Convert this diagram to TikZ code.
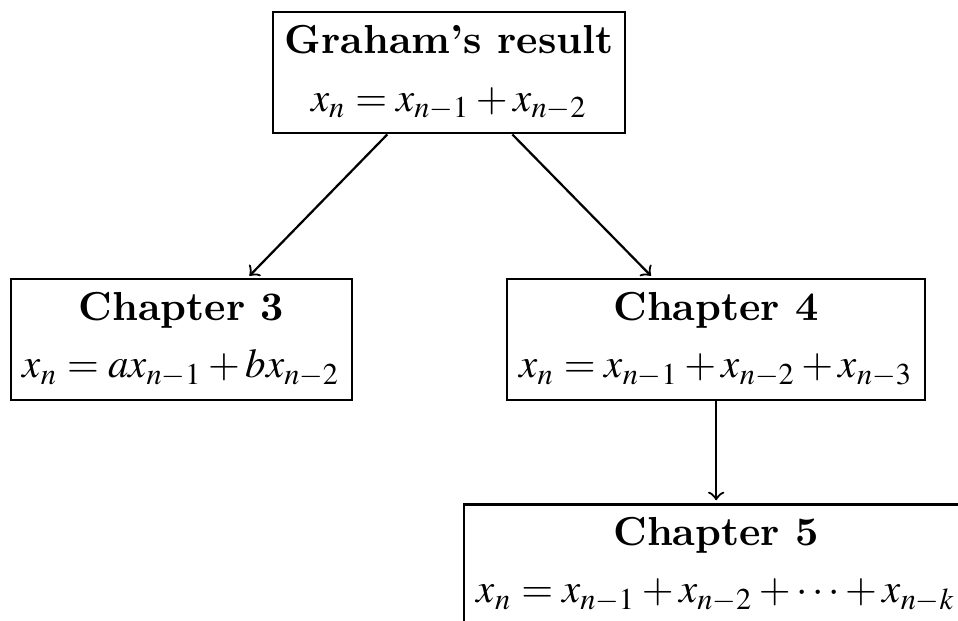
\documentclass[tikz,border=0pt]{standalone}
\usepackage{amsmath}
\usepackage{mathptmx}
\renewcommand{\rmdefault}{lmr}
\newcommand{\chtitle}[1]{{\fontsize{10}{14.1}\selectfont\bfseries #1}}

\begin{document}
\begin{tikzpicture}[x=1pt,y=1pt,
  chbox/.style={draw,line width=0.6pt,anchor=north,align=center,minimum height=29.9pt,
    inner xsep=1pt,inner ysep=0pt,font=\fontsize{10.1}{14.1}\selectfont},
  every path/.style={line width=0.55pt}]
\useasboundingbox (0,0) rectangle (236.5,-153.1);
\node[chbox,minimum width=86.9pt] (graham) at (110.9,-2.7) {\chtitle{Graham’s result}\\ $x_n=x_{n-1}+x_{n-2}$};
\node[chbox,minimum width=84.3pt] (ch3) at (44.8,-68.6) {\chtitle{Chapter 3}\\ $x_n=ax_{n-1}+bx_{n-2}$};
\node[chbox,minimum width=103.2pt] (ch4) at (176.8,-68.6) {\chtitle{Chapter 4}\\ $x_n=x_{n-1}+x_{n-2}+x_{n-3}$};
\node[chbox,minimum width=124.4pt] (ch5) at (176.8,-124.2) {\chtitle{Chapter 5}\\ $x_n=x_{n-1}+x_{n-2}+\cdots+x_{n-k}$};
\draw[->,shorten >=0.7pt] ([xshift=-15.3pt]graham.south) -- ([xshift=16.3pt]ch3.north);
\draw[->,shorten >=0.7pt] ([xshift=15.6pt]graham.south) -- ([xshift=-15.6pt]ch4.north);
\draw[->,shorten >=0.7pt] (ch4.south) -- (ch5.north);
\end{tikzpicture}
\end{document}
